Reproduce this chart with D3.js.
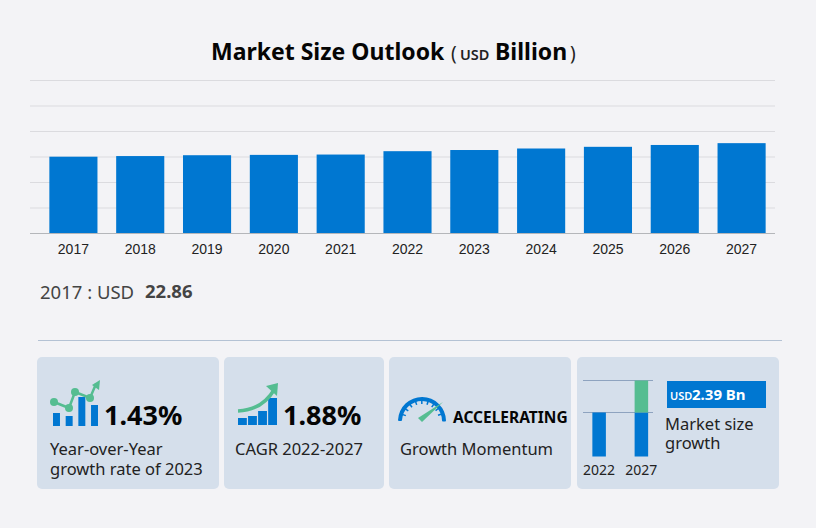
<!DOCTYPE html>
<html><head><meta charset="utf-8">
<script src="https://cdn.jsdelivr.net/npm/d3@7"></script>
<style>html,body{margin:0;padding:0;background:#f3f3f6;overflow:hidden}svg{display:block}</style>
</head><body><svg id="c" width="816" height="528"></svg>
<script>
const years = ["2017","2018","2019","2020","2021","2022","2023","2024","2025","2026","2027"];
const marketSize = [22.86,23.05,23.3,23.4,23.5,24.5,24.85,25.3,25.8,26.35,26.89];
const gridSteps = [0,1,2,3,4,5,6];
const miniYears = ["2022","2027"];
const miniBase = [24.5,24.5];
const miniGrowth = [0,2.39];
const trendBars = [13,10,29,21];
const cagrBars = [7,9,14,27];

const BLUE="#0077d1", GREEN="#55bd91", CARD="#d5dfeb", SANS="'Noto Sans','Open Sans',sans-serif";
const svg=d3.select("#c");
const txt=(x,y,s,size,o={})=>svg.append("text").attr("x",x).attr("y",y).text(s)
  .attr("font-family",o.family||SANS).attr("font-size",size).attr("font-weight",o.weight||400)
  .attr("fill",o.fill||"#111").attr("text-anchor",o.anchor||"start");

// title
txt(211,60,"Market Size Outlook",23,{weight:700,fill:"#050505"});
txt(451,60,"(",19,{fill:"#222"});
txt(460,60,"USD",14.5,{weight:600,fill:"#222"});
txt(495,60,"Billion",23,{weight:700,fill:"#050505"});
txt(570,60,")",19,{fill:"#222"});

// main chart
const x=d3.scaleBand().domain(years).range([40,775]).paddingInner(0.28).paddingOuter(0.14);
const y=d3.scaleLinear().domain([0,45.54]).range([233.5,80.5]);
const grid=d3.scaleLinear().domain([0,6]).range([233.5,80.5]);
svg.append("g").selectAll("line").data(gridSteps.slice(1)).join("line")
  .attr("x1",30).attr("x2",775).attr("y1",d=>grid(d)).attr("y2",d=>grid(d))
  .attr("stroke","#dbdbdf").attr("stroke-width",1);
svg.append("g").selectAll("rect").data(marketSize).join("rect")
  .attr("x",(d,i)=>x(years[i])).attr("width",x.bandwidth())
  .attr("y",d=>y(d)).attr("height",d=>y(0)-y(d)).attr("fill",BLUE);
const ax=svg.append("g").attr("transform","translate(0,233.5)").call(d3.axisBottom(x).tickSize(0).tickPadding(11));
ax.select(".domain").remove();
svg.append("line").attr("x1",30).attr("x2",775).attr("y1",233.5).attr("y2",233.5).attr("stroke","#b4b6ba");
ax.selectAll("text").attr("font-family","'Liberation Sans',Arial,sans-serif").attr("font-size",14).attr("fill","#222");

// readout
txt(40,299,"2017 : USD",18.5,{fill:"#444"});
txt(145,298,String(marketSize[0]),18.5,{weight:700,fill:"#444"});

// separator
svg.append("line").attr("x1",38).attr("x2",782).attr("y1",340.5).attr("y2",340.5).attr("stroke","#b4c2d4");

// cards
[[37,182],[224,160],[389,182],[577,202]].forEach(([cx,w])=>svg.append("rect")
  .attr("x",cx).attr("y",357).attr("width",w).attr("height",132).attr("rx",5).attr("fill",CARD));

// card 1
const t1=d3.scaleBand().domain(d3.range(4)).range([52,97]).paddingInner(0.45);
svg.append("g").selectAll("rect").data(trendBars).join("rect")
  .attr("x",(d,i)=>t1(i)+1).attr("width",t1.bandwidth()).attr("y",d=>426-d).attr("height",d=>d).attr("fill",BLUE);
svg.append("path").attr("d","M54 402L69 408L75 392L90 398L96 384").attr("fill","none").attr("stroke",GREEN).attr("stroke-width",2.5);
[[54,402],[69,408],[75,392],[90,398]].forEach(p=>svg.append("circle").attr("cx",p[0]).attr("cy",p[1]).attr("r",4).attr("fill",GREEN));
svg.append("path").attr("d","M92 385L100 380L99 390Z").attr("fill",GREEN);
txt(104,425,"1.43%",27,{weight:700,fill:"#050505"});
txt(50,455,"Year-over-Year",16.5,{fill:"#222"});
txt(50,475,"growth rate of 2023",16.5,{fill:"#222"});

// card 2
const t2=d3.scaleBand().domain(d3.range(4)).range([238,277]).paddingInner(0.12);
svg.append("g").selectAll("rect").data(cagrBars).join("rect")
  .attr("x",(d,i)=>t2(i)).attr("width",t2.bandwidth()).attr("y",d=>425-d).attr("height",d=>d).attr("fill",BLUE);
svg.append("path").attr("d","M238 411Q262 410 274 390").attr("fill","none").attr("stroke",GREEN).attr("stroke-width",3.5);
svg.append("path").attr("d","M266 386L278 383L277 396Z").attr("fill",GREEN);
txt(283,425,"1.88%",27,{weight:700,fill:"#050505"});
txt(235,455,"CAGR  2022-2027",16.5,{fill:"#222"});

// card 3 gauge
const arc=d3.arc().innerRadius(20).outerRadius(24).cornerRadius(1);
const gauge=svg.append("g").attr("transform","translate(422,421)");
gauge.append("path").attr("d",arc({startAngle:-Math.PI/2,endAngle:Math.PI/2+0.02})).attr("fill",BLUE);
d3.range(-1.25,1.3,0.31).forEach(a=>gauge.append("line")
  .attr("x1",17*Math.sin(a)).attr("y1",-17*Math.cos(a)).attr("x2",21*Math.sin(a)).attr("y2",-21*Math.cos(a))
  .attr("stroke",BLUE).attr("stroke-width",1.5));
gauge.append("path").attr("d","M-4 -2L21 -18L0 2Z").attr("fill",GREEN).attr("transform","translate(0,-1)");
txt(453,423,"ACCELERATING",15.5,{weight:700,fill:"#050505"});
txt(400,455,"Growth Momentum",16.5,{fill:"#222"});

// card 4 mini chart
const mx=d3.scaleBand().domain(miniYears).range([578,662.5]).paddingInner(0.68).paddingOuter(0.34);
const my=d3.scaleLinear().domain([0,24.5,26.89]).range([456.5,412.5,380.5]);
svg.append("g").selectAll("line").data([24.5,26.89]).join("line")
  .attr("x1",583).attr("x2",653).attr("y1",d=>my(d)).attr("y2",d=>my(d)).attr("stroke","#8ea3bf");
svg.append("g").selectAll("rect").data(miniBase).join("rect")
  .attr("x",(d,i)=>mx(miniYears[i])).attr("width",mx.bandwidth()).attr("y",d=>my(d)).attr("height",d=>my(0)-my(d)).attr("fill",BLUE);
svg.append("g").selectAll("rect").data(miniGrowth).join("rect")
  .attr("x",(d,i)=>mx(miniYears[i])).attr("width",mx.bandwidth())
  .attr("y",(d,i)=>my(miniBase[i]+d)).attr("height",(d,i)=>my(miniBase[i])-my(miniBase[i]+d)).attr("fill",GREEN);
miniYears.forEach(v=>txt(mx(v)+mx.bandwidth()/2,475,v,14,{anchor:"middle",fill:"#222"}));
svg.append("rect").attr("x",667).attr("y",381).attr("width",99).attr("height",27).attr("fill",BLUE);
txt(670,400,"USD",11,{weight:600,fill:"#fff"});
txt(692,400,"2.39 Bn",15,{weight:700,fill:"#fff"});
txt(665,430,"Market size",16.5,{fill:"#222"});
txt(665,449,"growth",16.5,{fill:"#222"});
</script></body></html>
